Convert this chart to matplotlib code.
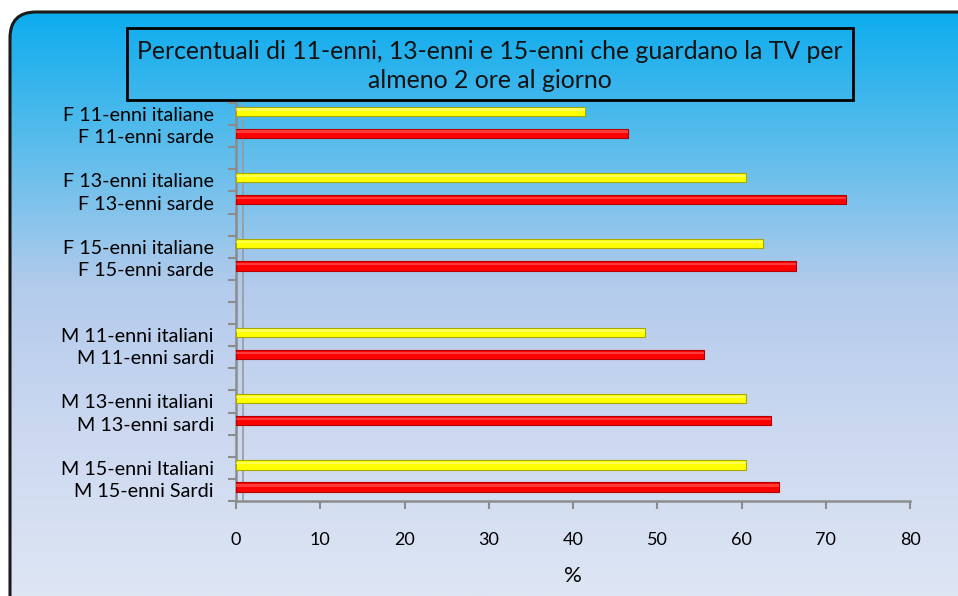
import numpy as np
import matplotlib.pyplot as plt
from matplotlib.patches import FancyBboxPatch, Rectangle
from matplotlib.colors import LinearSegmentedColormap

# category labels, top to bottom (blank rows are gaps in the original sheet)
labels = [
    "F 11-enni italiane", "F 11-enni sarde", "",
    "F 13-enni italiane", "F 13-enni sarde", "",
    "F 15-enni italiane", "F 15-enni sarde", "", "",
    "M 11-enni italiani", "M 11-enni sardi", "",
    "M 13-enni italiani", "M 13-enni sardi", "",
    "M 15-enni Italiani", "M 15-enni Sardi",
]
# series: italian (yellow) and sardinian (red) percentages, None = no bar
italiani = [41.4, None, None, 60.5, None, None, 62.5, None, None, None,
            48.5, None, None, 60.5, None, None, 60.5, None]
sardi = [None, 46.5, None, None, 72.4, None, None, 66.5, None, None,
         None, 55.5, None, None, 63.5, None, None, 64.5]
xticks = [0, 10, 20, 30, 40, 50, 60, 70, 80]

FONT = "Lato"
W, H = 958, 596

fig = plt.figure(figsize=(W / 100, H / 100), dpi=100)

# background with rounded frame and vertical gradient
bg = fig.add_axes([0, 0, 1, 1])
bg.set_xlim(0, W)
bg.set_ylim(H, 0)
bg.axis("off")
cmap = LinearSegmentedColormap.from_list(
    "bg", [(0.0, "#06abee"), (0.25, "#5dbdeb"), (0.48, "#b3cbec"),
           (0.72, "#cbd8f0"), (1.0, "#dee6f4")])
grad = np.linspace(0, 1, 256).reshape(-1, 1)
img = bg.imshow(grad, cmap=cmap, aspect="auto", extent=[0, W, H, 0], zorder=0)
frame = FancyBboxPatch((10, 12), 990, 640, boxstyle="round,pad=0,rounding_size=26",
                       facecolor="none", edgecolor="#1a1a1a", linewidth=2.2, zorder=2)
bg.add_patch(frame)
img.set_clip_path(frame)

# title box
bg.add_patch(Rectangle((127, 28), 726, 72, facecolor="none", edgecolor="black",
                       linewidth=2, zorder=3))
bg.text(490, 66, "Percentuali di 11-enni, 13-enni e 15-enni che guardano la TV per\nalmeno 2 ore al giorno",
        ha="center", va="center", fontsize=17.8, family=FONT,
        color="#111111", linespacing=1.32, zorder=4)

# chart area
ax = fig.add_axes([236 / W, 1 - 501 / H, 674 / W, 398 / H])
ax.patch.set_alpha(0)
pos = np.arange(len(labels))
off = -0.13
hgt = 0.42


def draw_bars(values, face, edge, light):
    ys = [p + off for p, v in zip(pos, values) if v is not None]
    xs = [v for v in values if v is not None]
    ax.barh(ys, xs, height=hgt, color=face, edgecolor=edge,
            linewidth=0.8, zorder=3)
    ax.barh([y - hgt * 0.18 for y in ys], xs, height=hgt * 0.25,
            color=light, linewidth=0, zorder=4, alpha=0.55)


draw_bars(italiani, "#ffff00", "#a8a800", "#ffff99")
draw_bars(sardi, "#ff0000", "#b00000", "#ff6a6a")

ax.set_xlim(0, 80)
ax.set_ylim(len(labels) - 0.5, -0.5)
for s in ["top", "right"]:
    ax.spines[s].set_visible(False)
for s in ["left", "bottom"]:
    ax.spines[s].set_color("#8c8c8c")
    ax.spines[s].set_linewidth(1.8)
ax.axvline(0.8, color="#9a9a9a", linewidth=1.2, zorder=2)

ax.set_xticks(xticks)
ax.set_xticklabels([str(t) for t in xticks], family=FONT, fontsize=13)
ax.tick_params(axis="x", length=6, width=1.5, color="#8c8c8c", pad=16)

ax.set_yticks(np.arange(-0.5, len(labels), 1.0))
ax.set_yticklabels([])
ax.tick_params(axis="y", which="major", length=6, width=1.5, color="#8c8c8c")
ax.set_yticks(pos, minor=True)
ax.set_yticklabels(labels, minor=True, family=FONT, fontsize=14.2)
ax.tick_params(axis="y", which="minor", length=0, pad=16)

ax.set_xlabel("%", family=FONT, fontsize=16, labelpad=13)

fig.savefig("out.png", dpi=100)
